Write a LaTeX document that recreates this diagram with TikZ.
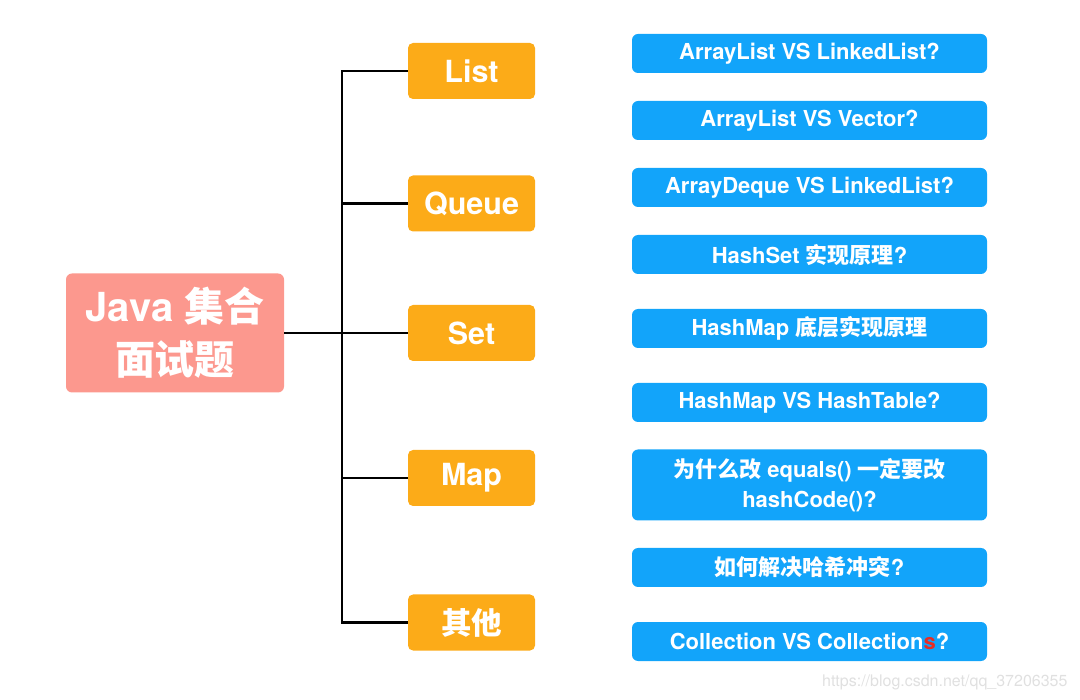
\documentclass[tikz,border=0pt]{standalone}
\usepackage{fontspec}
\setmainfont{TeX Gyre Heros}
\newfontfamily\cjk{Noto Sans CJK SC}
\definecolor{rootpink}{RGB}{252,152,142}
\definecolor{catorange}{RGB}{252,171,24}
\definecolor{qblue}{RGB}{18,164,250}
\definecolor{markred}{RGB}{232,44,36}
\tikzset{
	rootbox/.style={fill=rootpink, rounded corners=6pt, text=white, font=\bfseries\fontsize{40}{53}\selectfont, minimum width=218, minimum height=119, align=center, inner sep=0pt},
	catbox/.style={fill=catorange, rounded corners=5pt, text=white, font=\bfseries\fontsize{30.5}{34}\selectfont, minimum width=127, minimum height=56, inner sep=0pt},
	qbox/.style={fill=qblue, rounded corners=6pt, text=white, font=\bfseries\fontsize{22}{30}\selectfont, minimum width=355, minimum height=39, align=center, inner sep=0pt},
	branch/.style={line width=2.6pt, black}
}
\begin{document}
\begin{tikzpicture}[x=1pt,y=-1pt]
	\useasboundingbox (0,0) rectangle (1080,700);
	% root
	\node[rootbox] (root) at (175,333) {Java {\cjk 集合}\\{\cjk 面试题}};
	% categories
	\node[catbox] (list) at (471.5,71) {List};
	\node[catbox] (queue) at (471.5,203.5) {Queue};
	\node[catbox] (set) at (471.5,333) {Set};
	\node[catbox] (map) at (471.5,478) {Map};
	\node[catbox] (other) at (471.5,622.5) {\cjk 其他};
	% questions
	\node[qbox] (q1) at (809.5,53.5) {ArrayList VS LinkedList?};
	\node[qbox] (q2) at (809.5,120.5) {ArrayList VS Vector?};
	\node[qbox] (q3) at (809.5,187.5) {ArrayDeque VS LinkedList?};
	\node[qbox] (q4) at (809.5,254.5) {HashSet {\cjk 实现原理}?};
	\node[qbox] (q5) at (809.5,328.5) {HashMap {\cjk 底层实现原理}};
	\node[qbox] (q6) at (809.5,402.5) {HashMap VS HashTable?};
	\node[qbox, minimum height=71] (q7) at (809.5,485) {{\cjk 为什么改} equals() {\cjk 一定要改}\\hashCode()?};
	\node[qbox] (q8) at (809.5,567.5) {{\cjk 如何解决哈希冲突}?};
	\node[qbox] (q9) at (809.5,641.5) {Collection VS Collection\textcolor{markred}{s}?};
	% connectors
	\coordinate (hub) at (342,333);
	\draw[branch] (root) -- (hub);
	\draw[branch] (hub) |- (list);
	\draw[branch] (hub) |- (queue);
	\draw[branch] (hub) -- (set);
	\draw[branch] (hub) |- (map);
	\draw[branch] (hub) |- (other);
	% watermark
	\node[anchor=east, text=black!12, font=\fontsize{16}{18}\selectfont] (mark) at (1071,682) {https://blog.csdn.net/qq\_37206355};
\end{tikzpicture}
\end{document}
